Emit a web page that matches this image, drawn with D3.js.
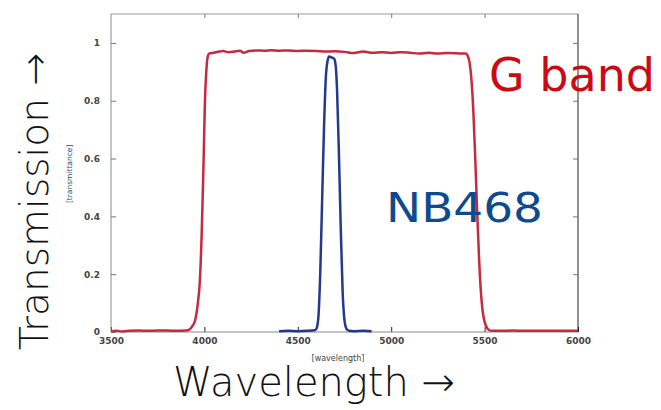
<!DOCTYPE html>
<html>
<head>
<meta charset="utf-8">
<script src="https://cdn.jsdelivr.net/npm/d3@7"></script>
<style>
	body { margin: 0; background: #fff; }
	svg { display: block; }
</style>
</head>
<body>
<div class="container"></div>
<script>
// G band filter curve
var gWave = [3500, 3530, 3560, 3600, 3650, 3700, 3750, 3800, 3850, 3900, 3920, 3935, 3950, 3965, 3976, 3985, 3993, 3998, 4003, 4010, 4017, 4025,
	4050, 4080, 4100, 4130, 4160, 4190, 4210, 4240, 4280, 4320, 4360, 4400, 4450, 4500, 4550, 4600, 4650, 4700, 4750, 4800, 4850, 4900,
	4950, 5000, 5050, 5100, 5150, 5200, 5250, 5300, 5350, 5380, 5400, 5410, 5420, 5430, 5440, 5450, 5460, 5470, 5480, 5490, 5500, 5515,
	5535, 5600, 5650, 5700, 5800, 5900, 6000];
var gTrans = [0.003, 0.004, 0.002, 0.004, 0.005, 0.004, 0.005, 0.005, 0.004, 0.005, 0.008, 0.02, 0.04, 0.1, 0.18, 0.33, 0.52, 0.66, 0.8, 0.9, 0.95, 0.963,
	0.966, 0.97, 0.972, 0.968, 0.97, 0.973, 0.966, 0.972, 0.974, 0.973, 0.975, 0.973, 0.974, 0.972, 0.973, 0.972, 0.97, 0.971, 0.969, 0.965, 0.97, 0.966,
	0.968, 0.965, 0.968, 0.966, 0.963, 0.966, 0.963, 0.965, 0.964, 0.963, 0.963, 0.955, 0.93, 0.87, 0.76, 0.6, 0.42, 0.26, 0.14, 0.07, 0.035, 0.012,
	0.004, 0.004, 0.005, 0.004, 0.004, 0.004, 0.004];

// NB468 filter curve
var nbWave = [4400, 4450, 4500, 4550, 4590, 4600, 4610, 4620, 4630, 4640, 4650, 4660, 4668, 4680, 4695, 4703, 4710, 4720, 4730, 4740, 4750, 4760, 4775, 4800, 4850, 4895];
var nbTrans = [0.003, 0.004, 0.003, 0.004, 0.006, 0.012, 0.05, 0.2, 0.45, 0.7, 0.88, 0.94, 0.953, 0.95, 0.945, 0.92, 0.84, 0.62, 0.36, 0.14, 0.04, 0.012, 0.004, 0.003, 0.004, 0.003];

var xTicks = [3500, 4000, 4500, 5000, 5500, 6000];
var yTicks = [0, 0.2, 0.4, 0.6, 0.8, 1];

var padding = { top: 14, bottom: 78, left: 111, right: 83 },
	width = 661 - padding.left - padding.right,
	height = 410 - padding.top - padding.bottom;

var svg = d3.select('.container').append('svg')
	.attr('width', 661)
	.attr('height', 410);

var xScale = d3.scaleLinear().domain([3500, 6000]).range([0, width]);
var yScale = d3.scaleLinear().domain([0, 1.1]).range([height, 0]);

var plot = svg.append('g')
	.attr('transform', 'translate(' + padding.left + ',' + padding.top + ')');

// frame
plot.append('line').attr('x1', 0).attr('x2', width).attr('y1', 0).attr('y2', 0).attr('stroke', '#999');
plot.append('line').attr('x1', width).attr('x2', width).attr('y1', 0).attr('y2', height).attr('stroke', '#222');

// axes with inward ticks
var xAxis = plot.append('g')
	.attr('transform', 'translate(0,' + height + ')')
	.call(d3.axisBottom(xScale).tickValues(xTicks).tickSize(-5).tickPadding(6).tickFormat(d3.format('d')));
var xTop = plot.append('g')
	.call(d3.axisTop(xScale).tickValues(xTicks.slice(1, -1)).tickSize(-4).tickFormat(''));
var yAxis = plot.append('g')
	.call(d3.axisLeft(yScale).tickValues(yTicks).tickSize(-5).tickPadding(11).tickFormat(d => d === 0 || d === 1 ? d : d3.format('.1f')(d)));
var yRight = plot.append('g')
	.attr('transform', 'translate(' + width + ',0)')
	.call(d3.axisRight(yScale).tickValues(yTicks.slice(1)).tickSize(-5).tickFormat(''));

[xAxis, xTop, yAxis, yRight].forEach(function (a) {
	a.select('.domain').remove();
	a.selectAll('line').attr('stroke', '#777');
	a.selectAll('text')
		.attr('fill', '#444')
		.style('font-family', 'DejaVu Sans')
		.style('font-size', '9px')
		.style('font-weight', 'bold');
});
xAxis.selectAll('line').attr('stroke', '#222');
plot.append('line').attr('x1', 0).attr('x2', width).attr('y1', height).attr('y2', height).attr('stroke', '#888');
plot.append('line').attr('x1', 0).attr('x2', 0).attr('y1', 0).attr('y2', height).attr('stroke', '#888');

// small axis titles
plot.append('text')
	.attr('x', xScale(4715))
	.attr('y', height + 29)
	.attr('text-anchor', 'middle')
	.attr('fill', '#444')
	.style('font-family', 'DejaVu Sans')
	.style('font-size', '8px')
	.text('[wavelength]');
plot.append('text')
	.attr('transform', 'translate(-39,' + yScale(0.547) + ') rotate(-90)')
	.attr('text-anchor', 'middle')
	.attr('fill', '#444')
	.style('font-family', 'DejaVu Sans')
	.style('font-size', '7.5px')
	.text('[transmittance]');

// curves
var line = d3.line()
	.x(d => xScale(d[0]))
	.y(d => yScale(d[1]))
	.curve(d3.curveMonotoneX);

plot.append('path')
	.datum(gWave.map((w, i) => [w, gTrans[i]]))
	.attr('d', line)
	.attr('fill', 'none')
	.attr('stroke', '#c62a3e')
	.attr('stroke-width', 2.5);

plot.append('path')
	.datum(nbWave.map((w, i) => [w, nbTrans[i]]))
	.attr('d', line)
	.attr('fill', 'none')
	.attr('stroke', '#24388c')
	.attr('stroke-width', 2.5);

// big labels
svg.append('text')
	.attr('x', 489)
	.attr('y', 91)
	.attr('fill', '#cc0a14')
	.style('font-family', 'DejaVu Sans')
	.style('font-size', '46px')
	.text('G band');

svg.append('text')
	.attr('x', 386)
	.attr('y', 222)
	.attr('fill', '#0d4b8e')
	.attr('textLength', 157)
	.attr('lengthAdjust', 'spacingAndGlyphs')
	.style('font-family', 'DejaVu Sans')
	.style('font-size', '40px')
	.text('NB468');

svg.append('text')
	.attr('x', 173)
	.attr('y', 396)
	.attr('fill', '#111')
	.style('font-family', 'DejaVu Sans')
	.style('font-weight', 200)
	.style('font-size', '40px')
	.text('Wavelength \u2192');

svg.append('text')
	.attr('transform', 'translate(48,350) rotate(-90)')
	.attr('fill', '#111')
	.style('font-family', 'DejaVu Sans')
	.style('font-weight', 200)
	.style('font-size', '39px')
	.text('Transmission \u2192');
</script>
</body>
</html>
